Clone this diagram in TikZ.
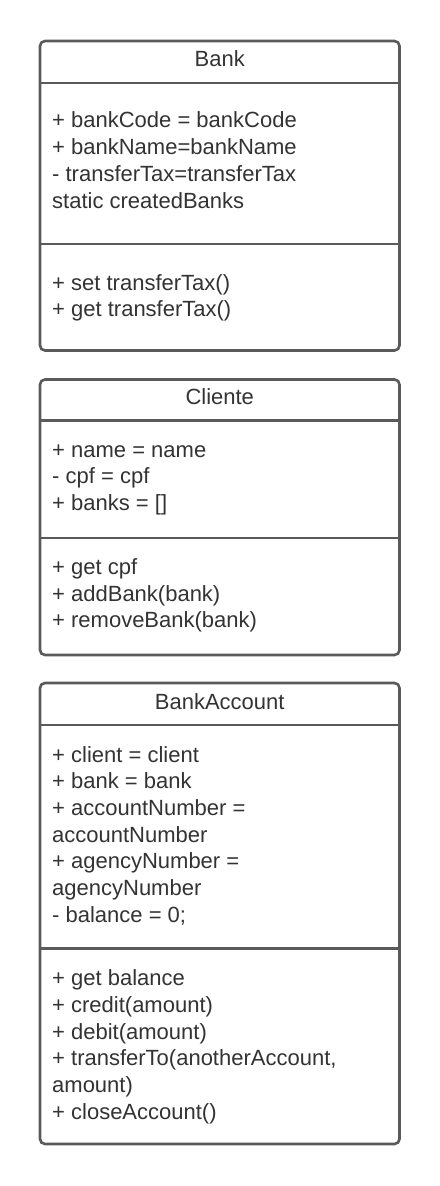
\documentclass[tikz,border=0pt]{standalone}
\usepackage{fontspec}
\setmainfont{Liberation Sans}
\definecolor{linec}{HTML}{5A5A5A}
\definecolor{textc}{HTML}{333333}
\tikzset{
  classbox/.style={draw=linec, line width=2.6bp, rounded corners=5bp, fill=white},
  sepline/.style={draw=linec, line width=2.6bp},
  % anchor=base west of a multi-line node sits on the LAST line's baseline
  txt/.style={inner sep=0pt, text=textc, font=\fontsize{22bp}{26.67bp}\selectfont, align=left, anchor=base west},
  ttl/.style={inner sep=0pt, text=textc, font=\fontsize{22bp}{26.67bp}\selectfont, anchor=base},
}
\begin{document}
\begin{tikzpicture}[x=1bp,y=-1bp]
\useasboundingbox (0,0) rectangle (440,1186);
% Bank
\draw[classbox] (40,41) rectangle (399.5,350.5);
\coordinate (bankL1) at (40,83); \coordinate (bankR1) at (399.5,83);
\coordinate (bankL2) at (40,244); \coordinate (bankR2) at (399.5,244);
\draw[sepline] (bankL1) -- (bankR1);
\draw[sepline] (bankL2) -- (bankR2);
\node[ttl] (bankT) at (219.75,66) {Bank};
\node[txt] (bankA) at (52,208) {+ bankCode = bankCode\\+ bankName=bankName\\- transferTax=transferTax\\static createdBanks};
\node[txt] (bankM) at (52,316.7) {+ set transferTax()\\+ get transferTax()};
% Cliente
\draw[classbox] (40,379.5) rectangle (399.5,655);
\coordinate (cliL1) at (40,420.7); \coordinate (cliR1) at (399.5,420.7);
\coordinate (cliL2) at (40,538); \coordinate (cliR2) at (399.5,538);
\draw[sepline] (cliL1) -- (cliR1);
\draw[sepline] (cliL2) -- (cliR2);
\node[ttl] (cliT) at (219.75,404.3) {Cliente};
\node[txt] (cliA) at (52,510.6) {+ name = name\\- cpf = cpf\\+ banks = []};
\node[txt] (cliM) at (52,627.8) {+ get cpf\\+ addBank(bank)\\+ removeBank(bank)};
% BankAccount
\draw[classbox] (40,683) rectangle (399.5,1144);
\coordinate (acL1) at (40,725); \coordinate (acR1) at (399.5,725);
\coordinate (acL2) at (40,948.5); \coordinate (acR2) at (399.5,948.5);
\draw[sepline] (acL1) -- (acR1);
\draw[sepline] (acL2) -- (acR2);
\node[ttl] (acT) at (219.75,709) {BankAccount};
\node[txt] (acA) at (52,922.3) {+ client = client\\+ bank = bank\\+ accountNumber =\\accountNumber\\+ agencyNumber =\\agencyNumber\\- balance = 0;};
\node[txt] (acM) at (52,1119) {+ get balance\\+ credit(amount)\\+ debit(amount)\\+ transferTo(anotherAccount,\\amount)\\+ closeAccount()};
\end{tikzpicture}
\end{document}
